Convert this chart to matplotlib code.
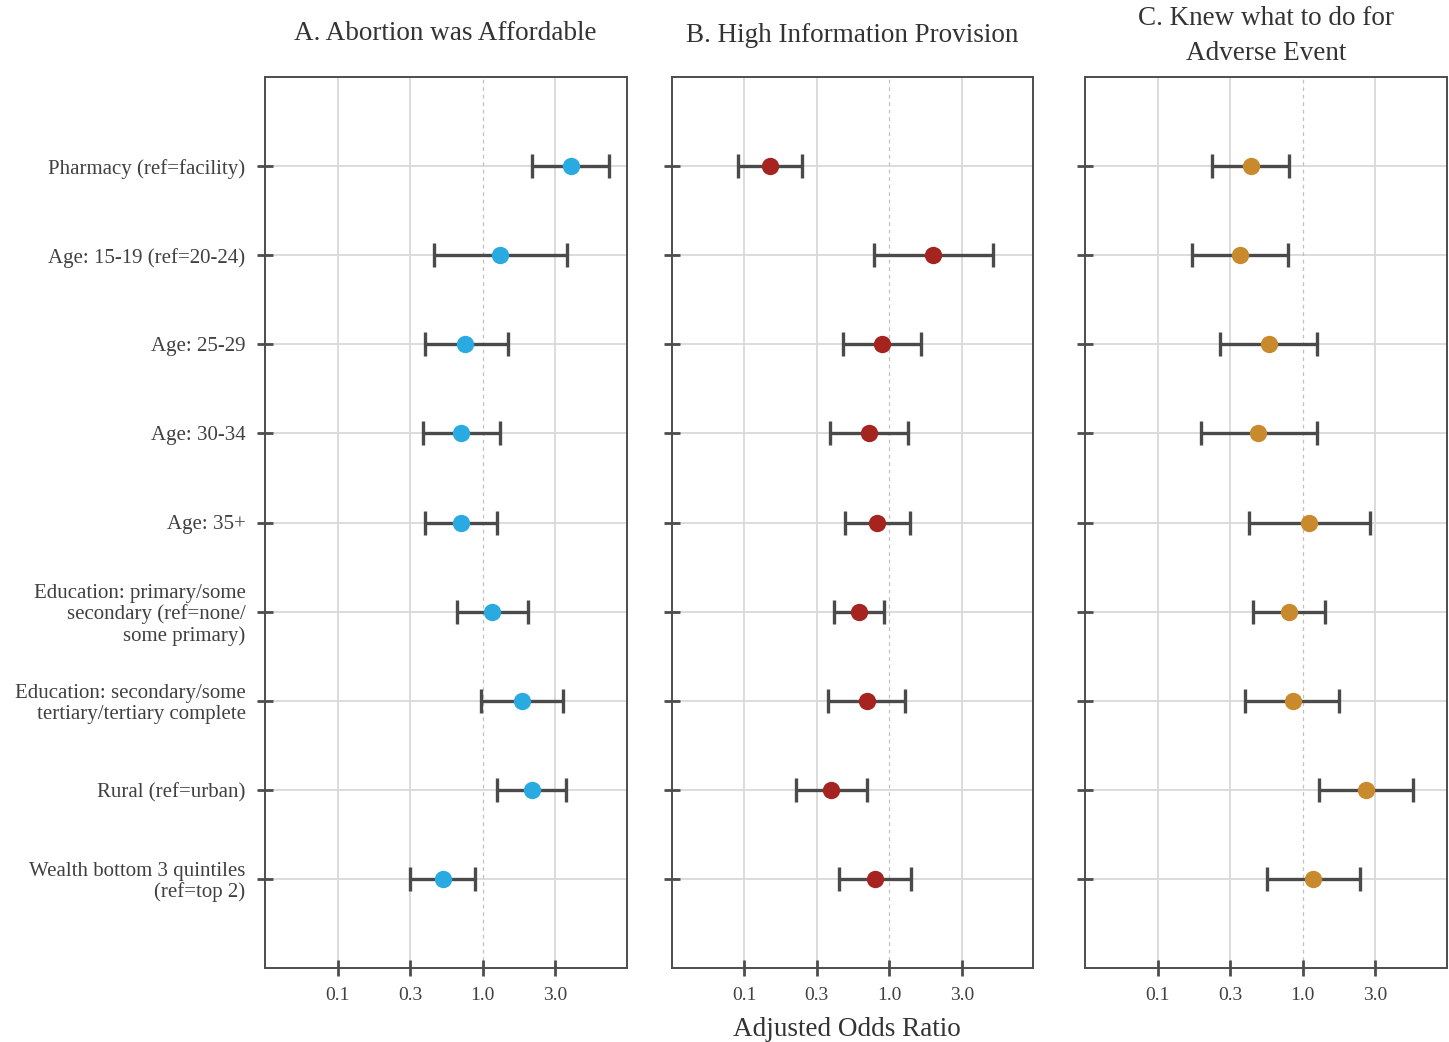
import numpy as np
import matplotlib
matplotlib.use("Agg")
import matplotlib.pyplot as plt

categories = [
    "Pharmacy (ref=facility)",
    "Age: 15-19 (ref=20-24)",
    "Age: 25-29",
    "Age: 30-34",
    "Age: 35+",
    "Education: primary/some\nsecondary (ref=none/\nsome primary)",
    "Education: secondary/some\ntertiary/tertiary complete",
    "Rural (ref=urban)",
    "Wealth bottom 3 quintiles\n(ref=top 2)",
]

titles = ["A. Abortion was Affordable", "B. High Information Provision",
          "C. Knew what to do for\nAdverse Event"]

# Panel A
a_or = [4.05, 1.33, 0.76, 0.71, 0.71, 1.17, 1.87, 2.18, 0.53]
a_lo = [2.18, 0.46, 0.40, 0.39, 0.40, 0.67, 0.97, 1.26, 0.316]
a_hi = [7.47, 3.83, 1.49, 1.33, 1.26, 2.06, 3.60, 3.75, 0.885]
# Panel B
b_or = [0.150, 2.01, 0.89, 0.72, 0.83, 0.615, 0.705, 0.398, 0.797]
b_lo = [0.090, 0.784, 0.477, 0.39, 0.497, 0.415, 0.38, 0.226, 0.454]
b_hi = [0.251, 5.16, 1.66, 1.34, 1.39, 0.919, 1.28, 0.705, 1.42]
# Panel C
c_or = [0.438, 0.370, 0.583, 0.49, 1.11, 0.813, 0.862, 2.72, 1.19]
c_lo = [0.237, 0.172, 0.271, 0.20, 0.425, 0.459, 0.404, 1.30, 0.57]
c_hi = [0.813, 0.796, 1.25, 1.25, 2.94, 1.43, 1.79, 5.74, 2.51]

colors = ["#29abe2", "#a52420", "#c98a2e"]

tick_vals = [10**-1, 10**-0.5, 1.0, 10**0.5]
tick_labels = ["0.1", "0.3", "1.0", "3.0"]

plt.rcParams['font.family'] = ['Liberation Serif', 'DejaVu Serif']

fig = plt.figure(figsize=(14.49, 10.42), dpi=100)
lefts = [265/1449, 671.7/1449, 1085/1449]
width = 361.5/1449
bottom = 1 - 968/1042
height = (968 - 77)/1042
title_y = [33, 35, 36]

data = [(a_or, a_lo, a_hi), (b_or, b_lo, b_hi), (c_or, c_lo, c_hi)]
ypos = np.arange(len(categories), 0, -1)  # top row at 9

edge = "#4d4d4d"
for i, (orv, lo, hi) in enumerate(data):
    ax = fig.add_axes([lefts[i], bottom, width, height])
    ax.set_xscale('log')
    ax.set_xlim(10**-1.5, 10**0.993)
    ax.set_ylim(0, len(categories) + 1)
    # grid
    for tv in tick_vals:
        if tv == 1.0:
            continue
        ax.axvline(tv, color="#d6d6d6", lw=1.2, zorder=0)
    for y in ypos:
        ax.axhline(y, color="#d9d9d9", lw=1.3, zorder=0)
    ax.axvline(1.0, color="#c0c0c0", lw=0.9, ls=(0, (3, 3)), zorder=0)
    orv = np.array(orv); lo = np.array(lo); hi = np.array(hi)
    ax.errorbar(orv, ypos, xerr=[orv - lo, hi - orv], fmt='none',
                ecolor="#4a4a4a", elinewidth=2.4, capsize=8.3, capthick=2.4, zorder=2)
    ax.plot(orv, ypos, 'o', color=colors[i], markersize=12.5, markeredgewidth=0, zorder=3)
    ax.set_xticks(tick_vals)
    ax.set_xticklabels(tick_labels)
    ax.xaxis.set_minor_locator(matplotlib.ticker.NullLocator())
    ax.set_yticks(ypos)
    if i == 0:
        ax.set_yticklabels(categories, fontsize=15, color="#404040",
                           linespacing=1.1)
    else:
        ax.set_yticklabels([])
    ax.tick_params(axis='both', direction='inout', length=12, width=2, color=edge,
                   labelcolor="#404040")
    ax.tick_params(axis='x', labelsize=14, pad=8)
    ax.tick_params(axis='y', pad=8)
    for s in ax.spines.values():
        s.set_color(edge)
        s.set_linewidth(1.4)
    cx = lefts[i] + width / 2
    fig.text(cx, 1 - title_y[i]/1042, titles[i], ha='center', va='center', fontsize=19.5,
             color="#333333", linespacing=1.5)

fig.text(lefts[1] + width/2 - 6/1449, 1 - 1030/1042, "Adjusted Odds Ratio",
         ha='center', va='center', fontsize=19.5, color="#333333")

fig.savefig("out.png", dpi=100)
